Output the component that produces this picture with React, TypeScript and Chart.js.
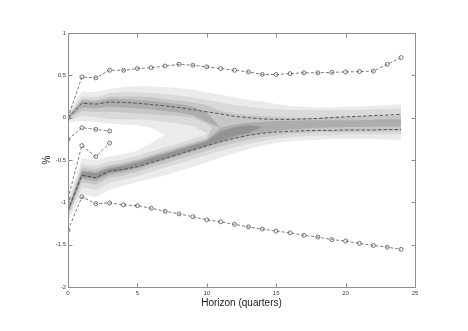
import React, { useEffect, useRef } from 'react';
import { Chart, registerables } from 'chart.js';

Chart.register(...registerables);

// Horizon (quarters)
const horizon = [0, 1, 2, 3, 4, 5, 6, 7, 8, 9, 10, 11, 12, 13, 14, 15, 16, 17, 18, 19, 20, 21, 22, 23, 24];

// Median paths (dashed)
const upperMedian = [0.0, 0.17, 0.16, 0.185, 0.18, 0.17, 0.155, 0.14, 0.12, 0.095, 0.07, 0.045, 0.015, 0.0, -0.015, -0.02, -0.02, -0.015, -0.01, 0.0, 0.01, 0.015, 0.025, 0.03, 0.04];
const lowerMedian = [-1.1, -0.68, -0.71, -0.63, -0.61, -0.58, -0.53, -0.48, -0.43, -0.38, -0.33, -0.28, -0.245, -0.21, -0.185, -0.17, -0.16, -0.155, -0.15, -0.15, -0.145, -0.145, -0.145, -0.14, -0.14];

// Dotted paths with circle markers
const topPath = [0.0, 0.48, 0.47, 0.56, 0.56, 0.58, 0.59, 0.61, 0.63, 0.62, 0.6, 0.58, 0.56, 0.54, 0.51, 0.51, 0.52, 0.53, 0.53, 0.535, 0.54, 0.545, 0.55, 0.63, 0.71];
const bottomPath = [-1.33, -0.935, -1.015, -1.007, -1.03, -1.04, -1.07, -1.105, -1.137, -1.17, -1.207, -1.23, -1.26, -1.29, -1.315, -1.34, -1.36, -1.39, -1.41, -1.44, -1.457, -1.485, -1.51, -1.53, -1.555];
const shortPathA = [-0.256, -0.118, -0.138, -0.158];
const shortPathB = [-0.955, -0.33, -0.46, -0.3];

// Fan band edges
const band1Hi = [0.06, 0.31, 0.3, 0.34, 0.36, 0.37, 0.37, 0.36, 0.35, 0.33, 0.3, 0.27, 0.24, 0.21, 0.19, 0.16, 0.14, 0.13, 0.12, 0.12, 0.13, 0.13, 0.14, 0.15, 0.16];
const band1Lo = [-1.22, -0.9, -0.94, -0.85, -0.8, -0.76, -0.72, -0.68, -0.63, -0.58, -0.53, -0.47, -0.42, -0.37, -0.33, -0.3, -0.28, -0.27, -0.26, -0.25, -0.25, -0.25, -0.25, -0.26, -0.26];
const gapHi = [-0.06, -0.04, -0.05, -0.07, -0.08, -0.09, -0.12, -0.2];
const gapLo = [-0.98, -0.48, -0.5, -0.46, -0.43, -0.39, -0.3, -0.2];

const upper2Hi = [0.03, 0.25, 0.24, 0.29, 0.3, 0.3, 0.29, 0.28, 0.26, 0.24, 0.21, 0.18];
const upper2Lo = [-0.03, 0.02, 0.01, -0.02, -0.02, -0.02, -0.03, -0.05, -0.07, -0.1, -0.18, -0.3];
const lower2Hi = [-1.02, -0.55, -0.57, -0.52, -0.49, -0.45, -0.4, -0.35, -0.3, -0.25, -0.2, 0.18, 0.15, 0.13, 0.11, 0.1, 0.09, 0.09, 0.09, 0.09, 0.09, 0.09, 0.1, 0.1, 0.11];
const lower2Lo = [-1.18, -0.82, -0.85, -0.77, -0.73, -0.69, -0.64, -0.59, -0.54, -0.49, -0.44, -0.39, -0.35, -0.31, -0.28, -0.25, -0.23, -0.22, -0.21, -0.21, -0.2, -0.2, -0.2, -0.2, -0.2];

const upper3Hi = [0.02, 0.22, 0.21, 0.25, 0.25, 0.25, 0.24, 0.22, 0.2, 0.18, 0.15, 0.08];
const upper3Lo = [-0.02, 0.08, 0.07, 0.07, 0.06, 0.05, 0.04, 0.03, 0.02, 0.0, -0.07, -0.2];
const lower3Hi = [-1.05, -0.59, -0.61, -0.56, -0.53, -0.49, -0.44, -0.39, -0.34, -0.29, -0.24, 0.08, 0.05, 0.03, 0.02, 0.01, 0.0, 0.0, 0.0, 0.01, 0.01, 0.01, 0.02, 0.02, 0.03];
const lower3Lo = [-1.15, -0.76, -0.79, -0.71, -0.68, -0.64, -0.59, -0.54, -0.49, -0.44, -0.39, -0.34, -0.3, -0.26, -0.23, -0.21, -0.19, -0.18, -0.17, -0.17, -0.165, -0.165, -0.165, -0.16, -0.16];

const upper4Hi = [0.01, 0.2, 0.19, 0.22, 0.22, 0.21, 0.2, 0.18, 0.16, 0.13, 0.06, -0.12];
const upper4Lo = [-0.01, 0.12, 0.11, 0.13, 0.12, 0.11, 0.1, 0.08, 0.06, 0.03, -0.05, -0.12];
const lower4Hi = [-1.07, -0.62, -0.64, -0.58, -0.55, -0.51, -0.46, -0.41, -0.36, -0.31, -0.26, -0.12, -0.08, -0.06, -0.05, -0.04, -0.035, -0.03, -0.03, -0.03, -0.03, -0.03, -0.025, -0.02, -0.02];
const lower4Lo = [-1.13, -0.72, -0.75, -0.67, -0.64, -0.6, -0.55, -0.5, -0.45, -0.4, -0.35, -0.3, -0.25, -0.21, -0.18, -0.16, -0.14, -0.13, -0.12, -0.115, -0.11, -0.11, -0.105, -0.105, -0.105];

const core5Hi = [-1.08, -0.64, -0.66, -0.6, -0.57, -0.53, -0.48, -0.43, -0.38, -0.33, -0.28, -0.16, -0.11, -0.09, -0.11];
const core5Lo = [-1.12, -0.7, -0.72, -0.65, -0.62, -0.58, -0.53, -0.48, -0.43, -0.38, -0.33, -0.27, -0.22, -0.18, -0.11];

const yTicks = [-2, -1.5, -1, -0.5, 0, 0.5, 1];
const xTicks = [0, 5, 10, 15, 20, 25];

const shades = ['#ebebeb', '#dadada', '#c6c6c6', '#adadad', '#939393'];
const FONT = "'Liberation Sans', Arial, Helvetica, sans-serif";

const boxPlugin = {
  id: 'matlabBox',
  afterDatasetsDraw(chart: any) {
    const { ctx, chartArea: a, scales } = chart;
    const xs = scales.x;
    const ys = scales.y;
    ctx.save();
    ctx.strokeStyle = '#8c8c8c';
    ctx.lineWidth = 1;
    const L = Math.round(a.left) + 0.5;
    const R = Math.round(a.right) + 0.5;
    const T = Math.round(a.top) + 0.5;
    const B = Math.round(a.bottom) + 0.5;
    ctx.beginPath();
    ctx.rect(L, T, R - L, B - T);
    const tl = 4;
    xTicks.forEach((v) => {
      const px = Math.round(xs.getPixelForValue(v)) + 0.5;
      ctx.moveTo(px, B);
      ctx.lineTo(px, B - tl);
      ctx.moveTo(px, T);
      ctx.lineTo(px, T + tl);
    });
    yTicks.forEach((v) => {
      const py = Math.round(ys.getPixelForValue(v)) + 0.5;
      ctx.moveTo(L, py);
      ctx.lineTo(L + tl, py);
      ctx.moveTo(R, py);
      ctx.lineTo(R - tl, py);
    });
    ctx.stroke();
    ctx.restore();
  },
};

export default function App() {
  const ref = useRef<HTMLCanvasElement>(null);

  useEffect(() => {
    const canvas = ref.current;
    if (!canvas) return;
    const pts = (ys: number[]) => ys.map((y, i) => ({ x: horizon[i], y }));
    const datasets: any[] = [];
    let ord = 1000;
    const band = (lo: number[], hi: number[], color: string) => {
      datasets.push({
        data: pts(lo), borderWidth: 0, borderColor: 'rgba(0,0,0,0)', pointRadius: 0, fill: false, order: ord, tension: 0,
      });
      datasets.push({
        data: pts(hi), borderWidth: 0, borderColor: 'rgba(0,0,0,0)', pointRadius: 0, fill: '-1', backgroundColor: color, order: ord, tension: 0,
      });
      ord--;
    };
    band(band1Lo, band1Hi, shades[0]);
    band(gapLo, gapHi, '#ffffff');
    band(upper2Lo, upper2Hi, shades[1]);
    band(lower2Lo, lower2Hi, shades[1]);
    band(upper3Lo, upper3Hi, shades[2]);
    band(lower3Lo, lower3Hi, shades[2]);
    band(upper4Lo, upper4Hi, shades[3]);
    band(lower4Lo, lower4Hi, shades[3]);
    band(core5Lo, core5Hi, shades[4]);

    const dashed = (ys: number[]) => ({
      data: pts(ys), borderColor: '#4a4a4a', borderWidth: 0.9, borderDash: [3.5, 2], pointRadius: 0, fill: false, order: 1, tension: 0,
    });
    datasets.push(dashed(upperMedian));
    datasets.push(dashed(lowerMedian));
    const dotted = (ys: number[]) => ({
      data: pts(ys), borderColor: '#5a5a5a', borderWidth: 0.8, borderDash: [3, 2], pointRadius: 2, pointStyle: 'circle',
      pointBorderColor: '#555555', pointBackgroundColor: 'rgba(255,255,255,0)', pointBorderWidth: 0.8, fill: false, order: 0, tension: 0,
    });
    datasets.push(dotted(topPath));
    datasets.push(dotted(bottomPath));
    datasets.push(dotted(shortPathA));
    datasets.push(dotted(shortPathB));

    const chart = new Chart(canvas, {
      type: 'line',
      data: { datasets },
      options: {
        animation: false,
        responsive: false,
        maintainAspectRatio: false,
        devicePixelRatio: 1,
        layout: { padding: { left: 0, right: 53, top: 33, bottom: 0 } },
        plugins: { legend: { display: false }, tooltip: { enabled: false } },
        scales: {
          x: {
            type: 'linear', min: 0, max: 25,
            grid: { display: false, drawTicks: false },
            border: { display: false },
            ticks: {
              stepSize: 5, autoSkip: false, maxRotation: 0, padding: 3, color: '#404040',
              font: { family: FONT, size: 6 },
              callback: (v: any) => String(v),
            },
            title: {
              display: true, text: 'Horizon (quarters)', color: '#1a1a1a',
              font: { family: FONT, size: 10 }, padding: { top: 0, bottom: 22 },
            },
            afterFit: (s: any) => { s.height = 44; },
          },
          y: {
            type: 'linear', min: -2, max: 1,
            grid: { display: false, drawTicks: false },
            border: { display: false },
            ticks: {
              stepSize: 0.5, autoSkip: false, padding: 2, color: '#404040',
              font: { family: FONT, size: 6 },
              callback: (v: any) => String(v),
            },
            title: {
              display: true, text: '%', color: '#1a1a1a',
              font: { family: FONT, size: 10 }, padding: { top: 41, bottom: 0 },
            },
            afterFit: (s: any) => { s.width = 68; },
          },
        },
      },
      plugins: [boxPlugin],
    });
    return () => chart.destroy();
  }, []);

  return (
    <div style={{ position: 'fixed', left: 0, top: 0, width: 468, height: 331, background: '#ffffff' }}>
      <canvas ref={ref} width={468} height={331} style={{ display: 'block' }} />
    </div>
  );
}
